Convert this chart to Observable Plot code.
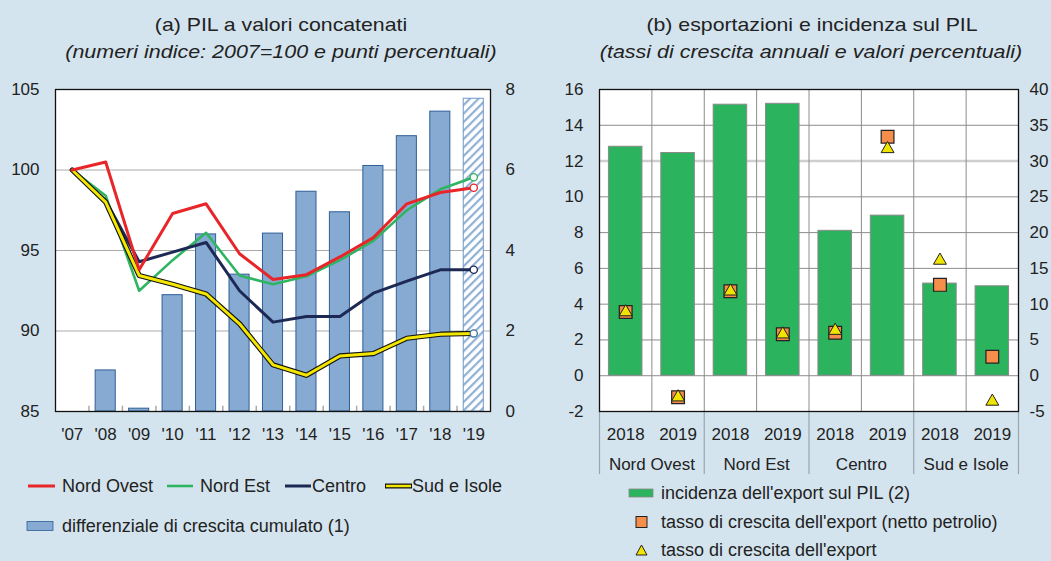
<!DOCTYPE html>
<html>
<head>
<meta charset="utf-8">
<script src="https://cdn.jsdelivr.net/npm/d3@7"></script>
<script src="https://cdn.jsdelivr.net/npm/@observablehq/plot@0.6"></script>
<style>
  html, body { margin: 0; padding: 0; }
  body { width: 1051px; height: 561px; background: #d4e4ee; position: relative; overflow: hidden;
         font-family: "Liberation Sans", Arial, sans-serif; color: #222; }
  .abs { position: absolute; }
  .title { position: absolute; font-size: 19px; white-space: nowrap; transform: translate(-50%, -50%) scaleX(1.12); }
  .sub { font-style: italic; transform: translate(-50%, -50%) scaleX(1.13); }
  .leg { position: absolute; font-size: 18px; white-space: nowrap; display: flex; align-items: center; }
</style>
</head>
<body>
<div class="title" style="left:281px; top:25px;">(a) PIL a valori concatenati</div>
<div class="title sub" style="left:281px; top:52px;">(numeri indice: 2007=100 e punti percentuali)</div>
<div class="title" style="left:812px; top:25px;">(b) esportazioni e incidenza sul PIL</div>
<div class="title sub" style="left:811px; top:52px;">(tassi di crescita annuali e valori percentuali)</div>

<div id="a1" class="abs" style="left:0; top:75px;"></div>
<div id="a2" class="abs" style="left:0; top:75px;"></div>
<div id="b1" class="abs" style="left:545px; top:75px;"></div>
<div id="b2" class="abs" style="left:545px; top:75px;"></div>

<div id="legA" class="abs" style="left:0; top:0;"></div>
<div id="legB" class="abs" style="left:0; top:0;"></div>

<script>
// ---------- Panel (a) data ----------
const years = [2007, 2008, 2009, 2010, 2011, 2012, 2013, 2014, 2015, 2016, 2017, 2018, 2019];
const nordOvest = [100, 100.5, 93.8, 97.3, 97.9, 94.8, 93.2, 93.5, 94.6, 95.8, 97.9, 98.6, 98.9];
const nordEst   = [100, 98.4, 92.5, 94.4, 96.1, 93.45, 92.9, 93.4, 94.4, 95.6, 97.5, 98.8, 99.55];
const centro    = [100, 98.1, 94.3, 94.9, 95.5, 92.5, 90.55, 90.9, 90.9, 92.35, 93.1, 93.8, 93.8];
const sudIsole  = [100, 98.0, 93.45, 92.9, 92.3, 90.45, 87.9, 87.25, 88.45, 88.6, 89.55, 89.8, 89.85];
const differenziale = [0, 1.02, 0.07, 2.89, 4.4, 3.4, 4.42, 5.46, 4.95, 6.1, 6.84, 7.45, 7.77];
const seriesNames = ["Nord Ovest", "Nord Est", "Centro", "Sud e Isole"];
const barLabelA = "differenziale di crescita cumulato (1)";

// ---------- Panel (b) data ----------
const regions = ["Nord Ovest", "Nord Est", "Centro", "Sud e Isole"];
const periods = ["2018", "2019"];
const incidenza     = [12.8, 12.45, 15.15, 15.2, 8.1, 8.95, 5.15, 5.0];
const nettoPetrolio = [8.9, -3.0, 11.8, 5.8, 6.0, 33.4, 12.7, 2.65];
const crescita      = [8.9, -3.0, 11.8, 5.8, 6.3, 31.7, 16.1, -3.6];
const legendB = ["incidenza dell'export sul PIL (2)", "tasso di crescita dell'export (netto petrolio)", "tasso di crescita dell'export"];

// colours
const cRed = "#e8262a", cGreen = "#2fb462", cNavy = "#1c2955", cYellow = "#f3e600";
const cBar = "#87aad2", cBarStroke = "#2e5f96";
const cGreenBar = "#2bb35e", cSquare = "#f58d4b", cTri = "#f0e500";

const font = {fontSize: "17px", fontFamily: "'Liberation Sans', Arial, sans-serif", color: "#222", background: "transparent", overflow: "visible"};
const fmt = d => (d < 0 ? "-" + Math.abs(d) : String(d));

// ---------- Panel (a) ----------
const A = {width: 540, height: 370, marginTop: 14, marginBottom: 34, marginLeft: 55, marginRight: 50};
const xA = {type: "linear", domain: [2006.5, 2019.5]};
const idxBars = d3.range(1, 12);
const boundaries = d3.range(2007.5, 2019, 1);

const a1 = Plot.plot({
  ...A, style: font,
  x: {...xA, axis: null},
  y: {domain: [0, 8], axis: null},
  marks: [
    Plot.frame({fill: "white", stroke: "none"}),
    Plot.ruleY([2, 4, 6], {stroke: "#aaa", strokeWidth: 1}),
    Plot.rectY(idxBars, {x1: i => years[i] - 0.3, x2: i => years[i] + 0.3, y1: 0, y2: i => differenziale[i],
      fill: cBar, stroke: cBarStroke, strokeWidth: 1}),
    Plot.rectY([12], {x1: i => years[i] - 0.3, x2: i => years[i] + 0.3, y1: 0, y2: i => differenziale[i],
      fill: "url(#hatch)", stroke: "#6f98c6", strokeWidth: 1}),
    Plot.axisY(d3.range(0, 9, 2), {anchor: "right", tickSize: 0, tickPadding: 15, fontSize: 17})
  ]
});
{
  const defs = d3.select(a1).insert("defs", ":first-child");
  const p = defs.append("pattern").attr("id", "hatch").attr("patternUnits", "userSpaceOnUse")
    .attr("width", 6).attr("height", 6).attr("patternTransform", "rotate(45)");
  p.append("rect").attr("width", 6).attr("height", 6).attr("fill", "white");
  p.append("rect").attr("x", 0).attr("width", 2.2).attr("height", 6).attr("fill", "#8fb1d6");
}
document.getElementById("a1").appendChild(a1);

const a2 = Plot.plot({
  ...A, style: font,
  x: {...xA, axis: null},
  y: {domain: [85, 105], axis: null},
  marks: [
    Plot.ruleX(boundaries, {y1: 85, y2: 85.33, stroke: "#aaa", strokeWidth: 1.5}),
    Plot.line(years, {x: d => d, y: nordEst, stroke: cGreen, strokeWidth: 2.6}),
    Plot.line(years, {x: d => d, y: centro, stroke: cNavy, strokeWidth: 3}),
    Plot.line(years, {x: d => d, y: sudIsole, stroke: "#111", strokeWidth: 5.2}),
    Plot.line(years, {x: d => d, y: sudIsole, stroke: cYellow, strokeWidth: 3}),
    Plot.line(years, {x: d => d, y: nordOvest, stroke: cRed, strokeWidth: 3}),
    Plot.dot([12], {x: i => years[i], y: i => nordOvest[i], r: 3.6, fill: "white", stroke: cRed, strokeWidth: 1.3}),
    Plot.dot([12], {x: i => years[i], y: i => nordEst[i], r: 3.6, fill: "white", stroke: cGreen, strokeWidth: 1.3}),
    Plot.dot([12], {x: i => years[i], y: i => centro[i], r: 3.6, fill: "white", stroke: cNavy, strokeWidth: 1.3}),
    Plot.dot([12], {x: i => years[i], y: i => sudIsole[i], r: 3.6, fill: "white", stroke: "#3a6ea5", strokeWidth: 1.3}),
    Plot.axisY([85, 90, 95, 100, 105], {anchor: "left", tickSize: 0, tickPadding: 16, fontSize: 17}),
    Plot.axisX(years, {anchor: "bottom", tickSize: 0, tickPadding: 16, fontSize: 17,
      tickFormat: d => "'" + String(d).slice(2)}),
    Plot.frame({stroke: "#111", strokeWidth: 1.3})
  ]
});
document.getElementById("a2").appendChild(a2);

// ---------- Panel (b) ----------
const B = {width: 506, height: 400, marginTop: 14, marginBottom: 64, marginLeft: 54, marginRight: 33};
const xB = {type: "linear", domain: [-0.5, 7.5]};
const idxB = d3.range(8);

const b1 = Plot.plot({
  ...B, style: font,
  x: {...xB, axis: null},
  y: {domain: [-2, 16], axis: null},
  marks: [
    Plot.frame({fill: "white", stroke: "none"}),
    Plot.ruleY(d3.range(-2, 17, 2).filter(v => v !== 12), {stroke: "#8c8c8c", strokeWidth: 1}),
    Plot.ruleY([12], {stroke: "#cfcfcf", strokeWidth: 2.5}),
    Plot.ruleX(d3.range(0.5, 7, 1), {stroke: "#8c8c8c", strokeWidth: 1}),
    Plot.rectY(idxB, {x1: i => i - 0.32, x2: i => i + 0.32, y1: 0, y2: i => incidenza[i],
      fill: cGreenBar, stroke: "#8a8a8a", strokeWidth: 1}),
    Plot.axisY(d3.range(-2, 17, 2), {anchor: "left", tickSize: 0, tickPadding: 16, fontSize: 17, tickFormat: fmt}),
    Plot.axisX(idxB, {anchor: "bottom", tickSize: 0, tickPadding: 16, fontSize: 17,
      tickFormat: i => periods[i % 2]}),
    Plot.axisX([0.5, 2.5, 4.5, 6.5], {anchor: "bottom", tickSize: 0, tickPadding: 46, fontSize: 17,
      tickFormat: v => regions[Math.floor(v / 2)]}),
    Plot.axisX([-0.5, 1.5, 3.5, 5.5, 7.5], {anchor: "bottom", tickSize: 63, stroke: "#9aa6ae", strokeWidth: 1.2,
      tickFormat: () => ""})
  ]
});
document.getElementById("b1").appendChild(b1);

const b2 = Plot.plot({
  ...B, style: font,
  x: {...xB, axis: null},
  y: {domain: [-5, 40], axis: null},
  marks: [
    Plot.dot(idxB, {x: i => i, y: i => nettoPetrolio[i], symbol: "square", r: 7.2,
      fill: cSquare, stroke: "#222", strokeWidth: 1.2}),
    Plot.dot(idxB, {x: i => i, y: i => crescita[i], symbol: "triangle", r: 4.8,
      fill: cTri, stroke: "#222", strokeWidth: 1}),
    Plot.axisY(d3.range(-5, 41, 5), {anchor: "right", tickSize: 0, tickPadding: 11, fontSize: 17, tickFormat: fmt}),
    Plot.frame({stroke: "#111", strokeWidth: 1.3})
  ]
});
document.getElementById("b2").appendChild(b2);

// ---------- Legends ----------
function legItem(parent, x, y, swatchSvg, w, gap, label) {
  const d = document.createElement("div");
  d.className = "leg";
  d.style.left = x + "px";
  d.style.top = (y - 11) + "px";
  d.style.height = "22px";
  d.innerHTML = `<svg width="${w}" height="14" style="overflow:visible;margin-right:${gap}px">${swatchSvg}</svg><span>${label}</span>`;
  parent.appendChild(d);
}
const legA = document.getElementById("legA");
legItem(legA, 28, 486, `<line x1="0" x2="27" y1="7" y2="7" stroke="${cRed}" stroke-width="3"/>`, 27, 7, seriesNames[0]);
legItem(legA, 167, 486, `<line x1="0" x2="26" y1="7" y2="7" stroke="${cGreen}" stroke-width="2.6"/>`, 26, 7, seriesNames[1]);
legItem(legA, 285, 486, `<line x1="0" x2="26" y1="7" y2="7" stroke="${cNavy}" stroke-width="3"/>`, 26, 1, seriesNames[2]);
legItem(legA, 385, 486, `<line x1="0" x2="27" y1="7" y2="7" stroke="#111" stroke-width="5"/><line x1="1" x2="26" y1="7" y2="7" stroke="${cYellow}" stroke-width="2.5"/>`, 27, 0, seriesNames[3]);
legItem(legA, 27, 526, `<rect x="0" y="2.5" width="26" height="9" fill="${cBar}" stroke="${cBarStroke}" stroke-width="0.8"/>`, 27, 8, barLabelA);

const legB = document.getElementById("legB");
legItem(legB, 629, 493, `<rect x="0" y="3" width="24" height="8" fill="${cGreenBar}" stroke="#888" stroke-width="0.8"/>`, 25, 7, legendB[0]);
legItem(legB, 636, 522, `<rect x="0" y="1.5" width="11" height="11" fill="${cSquare}" stroke="#222" stroke-width="1"/>`, 18, 7, legendB[1]);
legItem(legB, 636, 550, `<path d="M5.5,2 L11,12 L0,12 Z" fill="${cTri}" stroke="#222" stroke-width="1"/>`, 18, 7, legendB[2]);
</script>
</body>
</html>
